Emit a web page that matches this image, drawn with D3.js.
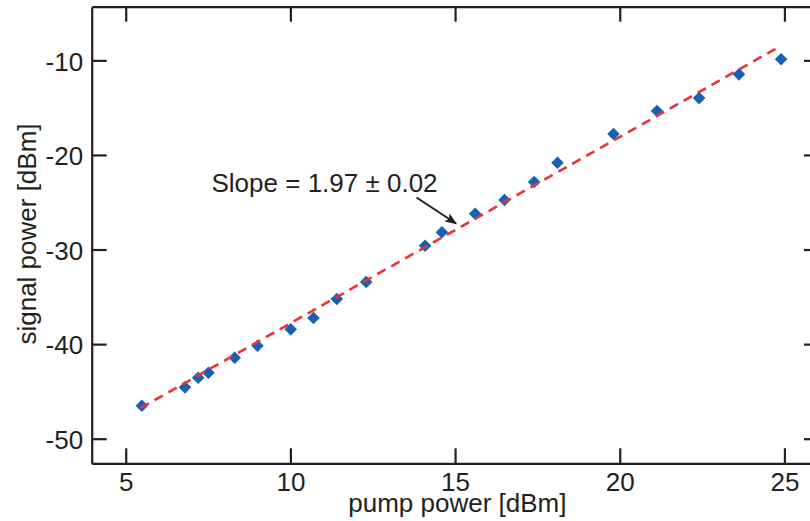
<!DOCTYPE html>
<html>
<head>
<meta charset="utf-8">
<script src="https://cdn.jsdelivr.net/npm/d3@7"></script>
<style>
  html, body { margin: 0; padding: 0; background: #fff; }
  svg { display: block; font-family: "Liberation Sans", Arial, Helvetica, sans-serif; }
</style>
</head>
<body>
<svg id="chart" width="810" height="521"></svg>
<script>
// Measured pump power (dBm) and resulting signal power (dBm)
const pumpPower = [5.49, 6.80, 7.20, 7.51, 8.31, 9.00, 10.01, 10.70, 11.41, 12.30,
                   14.09, 14.60, 15.61, 16.50, 17.40, 18.11, 19.81, 21.13, 22.41, 23.62, 24.90];
const signalPower = [-46.51, -44.57, -43.55, -43.02, -41.44, -40.17, -38.44, -37.24, -35.23, -33.43,
                     -29.60, -28.18, -26.22, -24.77, -22.86, -20.82, -17.79, -15.36, -13.99, -11.48, -9.89];

// Linear fit: slope and intercept, drawn over the measured range
const fitSlope = 1.97;
const fitIntercept = -57.5;
const fitRange = [5.45, 24.9];

const xTicks = [5, 10, 15, 20, 25];
const yTicks = [-50, -40, -30, -20, -10];
const xLabel = "pump power [dBm]";
const yLabel = "signal power [dBm]";
const slopeText = "Slope = 1.97 \u00b1 0.02";

const ink = "#231f20";
const blue = "#1661b1";
const red = "#ec3237";

const svg = d3.select("#chart");
const plotLeft = 91.7, plotRight = 819, plotTop = 6.7, plotBottom = 463.3;

const x = d3.scaleLinear().domain([3.967, 26.05]).range([plotLeft, plotRight]);
const y = d3.scaleLinear().domain([-52.6, -4.33]).range([plotBottom, plotTop]);

const tickLen = 15;
const fontSize = 26;
const plainNumber = d => String(d);   // keeps the ASCII hyphen as minus sign

// Axes: ticks pointing inwards on all four sides
function styleAxis(g) {
  g.selectAll("path.domain").attr("stroke", ink).attr("stroke-width", 2.2);
  g.selectAll(".tick line").attr("stroke", ink).attr("stroke-width", 2.2);
  g.selectAll(".tick text").attr("fill", ink).attr("font-size", fontSize)
    .attr("font-family", "Liberation Sans, Arial, sans-serif");
}

const xAxisBottom = svg.append("g")
  .attr("transform", `translate(0,${plotBottom})`)
  .call(d3.axisBottom(x).tickValues(xTicks).tickSizeInner(-tickLen).tickSizeOuter(0).tickFormat(plainNumber));
styleAxis(xAxisBottom);
xAxisBottom.selectAll(".tick text").attr("y", 0).attr("dy", 27.4);

const xAxisTop = svg.append("g")
  .attr("transform", `translate(0,${plotTop})`)
  .call(d3.axisTop(x).tickValues(xTicks).tickSizeInner(-tickLen).tickSizeOuter(0).tickFormat(""));
styleAxis(xAxisTop);

const yAxisLeft = svg.append("g")
  .attr("transform", `translate(${plotLeft},0)`)
  .call(d3.axisLeft(y).tickValues(yTicks).tickSizeInner(-tickLen).tickSizeOuter(0).tickFormat(plainNumber));
styleAxis(yAxisLeft);
yAxisLeft.selectAll(".tick text").attr("x", -8.5).attr("dy", 0).attr("y", 9.7);

const yAxisRight = svg.append("g")
  .attr("transform", `translate(${plotRight},0)`)
  .call(d3.axisRight(y).tickValues(yTicks).tickSizeInner(-tickLen).tickSizeOuter(0).tickFormat(""));
styleAxis(yAxisRight);

// Axis titles
svg.append("text")
  .attr("x", (plotLeft + plotRight) / 2 + 2).attr("y", 512)
  .attr("text-anchor", "middle").attr("fill", ink).attr("font-size", fontSize)
  .text(xLabel);

svg.append("text")
  .attr("transform", `translate(36,${(plotTop + plotBottom) / 2 - 1}) rotate(-90)`)
  .attr("text-anchor", "middle").attr("fill", ink).attr("font-size", fontSize)
  .text(yLabel);

// Data markers: diamonds
const half = 6.3;
const diamond = `M0,${-half}L${half},0L0,${half}L${-half},0Z`;
svg.append("g").selectAll("path")
  .data(pumpPower.map((p, i) => [p, signalPower[i]]))
  .join("path")
  .attr("d", diamond)
  .attr("transform", d => `translate(${x(d[0])},${y(d[1])})`)
  .attr("fill", blue);

// Dashed fit line drawn over the markers
const fitLine = d3.line().x(d => x(d)).y(d => y(fitSlope * d + fitIntercept));
svg.append("path")
  .datum(fitRange)
  .attr("d", fitLine)
  .attr("fill", "none")
  .attr("stroke", red)
  .attr("stroke-width", 2.6)
  .attr("stroke-dasharray", "9.5,6.5");

// Slope annotation with arrow
svg.append("defs").append("marker")
  .attr("id", "arrowhead")
  .attr("viewBox", "0 0 10 10")
  .attr("refX", 9).attr("refY", 5)
  .attr("markerWidth", 6).attr("markerHeight", 6)
  .attr("markerUnits", "strokeWidth")
  .attr("orient", "auto")
  .append("path").attr("d", "M0,1L10,5L0,9L2,5Z").attr("fill", ink);

svg.append("text")
  .attr("x", 211.5).attr("y", 192)
  .attr("fill", ink).attr("font-size", fontSize)
  .text(slopeText);

svg.append("line")
  .attr("x1", 416.5).attr("y1", 197.5)
  .attr("x2", 456).attr("y2", 223.5)
  .attr("stroke", ink).attr("stroke-width", 2)
  .attr("marker-end", "url(#arrowhead)");
</script>
</body>
</html>
